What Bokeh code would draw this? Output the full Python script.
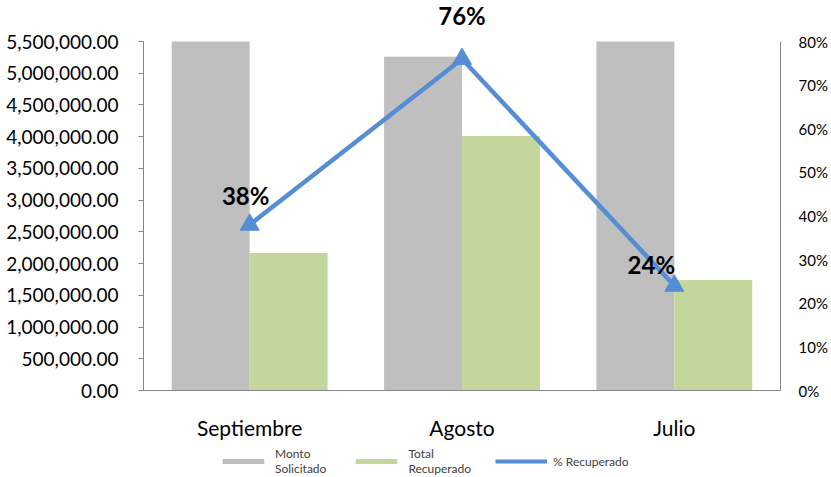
from bokeh.plotting import figure
from bokeh.layouts import column
from bokeh.models import (Range1d, FactorRange, LinearAxis, FixedTicker, NumeralTickFormatter,
                          ColumnDataSource, Legend, LegendItem, Label)
from bokeh.transform import dodge
from bokeh.embed import file_html
from bokeh.resources import INLINE

months = ["Septiembre", "Agosto", "Julio"]
monto_solicitado = [5700000, 5260000, 7250000]
total_recuperado = [2165000, 4010000, 1740000]
pct_recuperado = [0.38, 0.76, 0.24]
left_ticks = [0, 500000, 1000000, 1500000, 2000000, 2500000, 3000000,
              3500000, 4000000, 4500000, 5000000, 5500000]
right_ticks = [0, 0.1, 0.2, 0.3, 0.4, 0.5, 0.6, 0.7, 0.8]
series_names = ["Monto\nSolicitado", "Total\nRecuperado", "% Recuperado"]

FONT = "Lato"
GREY = "#BFBFBF"
GREEN = "#C3D69B"
BLUE = "#558ED5"
AXIS = "#868686"

# geometry: value axes are 349 px tall; frame extended upward to hold the top data label
AXIS_PX = 349
FRAME_PX = 385
ext = FRAME_PX / AXIS_PX
lmax, rmax = left_ticks[-1], right_ticks[-1]

# the value axis stops at lmax, bars taller than that are cut at the axis top
shown_solicitado = [min(v, lmax) for v in monto_solicitado]

src = ColumnDataSource(dict(m=months, s=shown_solicitado, t=total_recuperado, p=pct_recuperado,
                            full=monto_solicitado))

p = figure(frame_width=637, frame_height=FRAME_PX, x_range=FactorRange(*months, range_padding=0),
           y_range=Range1d(0, lmax * ext), output_backend="svg", toolbar_location=None,
           min_border_left=143, min_border_right=51, min_border_top=5, min_border_bottom=51)
p.extra_y_ranges = {"pct": Range1d(0, rmax * ext)}
p.outline_line_color = None
p.xgrid.visible = False
p.ygrid.visible = False

bw = 0.367
bar_style = [dict(fill_color=GREY, line_color=None), dict(fill_color=GREEN, line_color=None)]
p.vbar(x=dodge("m", -bw / 2, range=p.x_range), top="s", width=bw, source=src, **bar_style[0])
p.vbar(x=dodge("m", bw / 2, range=p.x_range), top="t", width=bw, source=src, **bar_style[1])
p.line(x="m", y="p", source=src, y_range_name="pct", line_color=BLUE, line_width=4.5)
p.scatter(x="m", y="p", source=src, y_range_name="pct", marker="triangle", size=19,
          fill_color=BLUE, line_color=BLUE)

# axes
p.yaxis.ticker = FixedTicker(ticks=left_ticks)
p.yaxis.bounds = (0, lmax)
p.yaxis.formatter = NumeralTickFormatter(format="0,0.00")
p.yaxis.major_label_text_font = FONT
p.yaxis.major_label_text_font_size = "19px"
p.yaxis.major_label_text_color = "#000000"
p.yaxis.axis_line_color = AXIS
p.yaxis.major_tick_line_color = AXIS
p.yaxis.major_tick_in = 0
p.yaxis.major_tick_out = 5
p.yaxis.minor_tick_line_color = None
p.yaxis.major_label_standoff = 20

ax2 = LinearAxis(y_range_name="pct", ticker=FixedTicker(ticks=right_ticks),
                 formatter=NumeralTickFormatter(format="0%"), bounds=(0, rmax))
ax2.major_label_text_font = FONT
ax2.major_label_text_font_size = "15px"
ax2.major_label_text_color = "#000000"
ax2.axis_line_color = AXIS
ax2.major_tick_line_color = None
ax2.minor_tick_line_color = None
ax2.major_label_standoff = 12
p.add_layout(ax2, "right")

p.xaxis.major_label_text_font = FONT
p.xaxis.major_label_text_font_size = "21px"
p.xaxis.major_label_text_color = "#000000"
p.xaxis.axis_line_color = AXIS
p.xaxis.major_tick_line_color = None
p.xaxis.minor_tick_line_color = None
p.xaxis.major_label_standoff = 18

# data labels
offsets = [(-4, 29), (0, 43), (-23, 21)]
for i, (v, (dx, dy)) in enumerate(zip(pct_recuperado, offsets)):
    p.add_layout(Label(x=i + 0.5, y=v, y_range_name="pct",
                       text=f"{round(v * 100)}%", x_offset=dx, y_offset=dy,
                       text_align="center", text_baseline="middle",
                       text_font=FONT, text_font_style="bold", text_font_size="24px",
                       text_color="#000000"))

# legend strip below the chart (proxy glyphs placed outside its visible range)
p2 = figure(width=831, height=36, x_range=Range1d(0, 1), y_range=Range1d(0, 1),
            output_backend="svg", toolbar_location=None, min_border=0,
            x_axis_type=None, y_axis_type=None, outline_line_color=None)
p2.xgrid.visible = False
p2.ygrid.visible = False
lg1 = p2.vbar(x=[-5], top=[-4], width=0.1, **bar_style[0])
lg2 = p2.vbar(x=[-5], top=[-4], width=0.1, **bar_style[1])
lg3 = p2.line(x=[-5, -4], y=[-5, -4], line_color=BLUE, line_width=4)
lg4 = p2.scatter(x=[-5], y=[-5], marker="triangle", size=12, fill_color=BLUE, line_color=BLUE)
legend = Legend(items=[LegendItem(label=series_names[0], renderers=[lg1]),
                       LegendItem(label=series_names[1], renderers=[lg2]),
                       LegendItem(label=series_names[2], renderers=[lg3, lg4])],
                orientation="horizontal", location=(74, 2),
                label_text_font=FONT, label_text_font_size="12px", label_text_color="#404040",
                glyph_width=52, glyph_height=6, spacing=24, padding=0, margin=0,
                border_line_color=None, background_fill_alpha=0, label_standoff=6)
p2.add_layout(legend, "center")

layout = column(p, p2, spacing=0)
open("out.html", "w").write(file_html(layout, INLINE))
